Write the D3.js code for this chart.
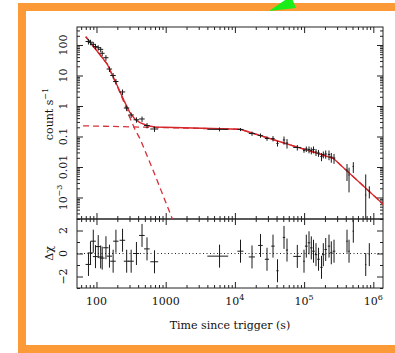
<!DOCTYPE html>
<html>
<head>
<meta charset="utf-8">
<script src="https://cdn.jsdelivr.net/npm/d3@7"></script>
<style>
	body { margin: 0; background: #fff; }
	svg { display: block; }
	.label { font-family: "DejaVu Serif", "Liberation Serif", serif; font-size: 11px; fill: #111; }
	.frame { fill: none; stroke: #222; stroke-width: 1; }
	.err { stroke: #1a1a1a; stroke-width: 1; }
	.model { fill: none; stroke: #d6262b; stroke-width: 1.4; }
	.component { fill: none; stroke: #d6303a; stroke-width: 1.3; stroke-dasharray: 6,4; }
</style>
</head>
<body>
<script>
// Light curve points (time since trigger in s, count rate in count/s)
let time = [76.6, 81.9, 89.9, 96.7, 106, 115, 121, 137, 154, 174, 191, 238, 273, 317, 378, 455, 537, 689,
	6000,
	12050, 17670, 23440, 29100, 35530, 41270, 51230, 56620, 79740, 99680, 107600, 117700, 127100, 136700,
	148600, 161500, 178400, 189500, 205200, 229000, 247200, 270500, 416800, 445500, 514000, 776700, 875400];
let timeErr = [7, 7, 8, 8, 9, 10, 10, 12, 14, 16, 17, 22, 25, 29, 35, 42, 50, 90,
	2000,
	1200, 1800, 1800, 2000, 2000, 1500, 2000, 2000, 10000, 3000, 5000, 5000, 5000, 6000,
	6000, 7000, 7000, 8000, 8000, 9000, 10000, 12000, 10000, 10000, 12000, 15000, 15000];
let rate = [130, 123, 105, 89, 81.5, 72, 53.4, 38.3, 16.3, 10, 6.36, 2.88, 0.86, 0.507, 0.353, 0.375, 0.229, 0.176,
	0.172,
	0.170, 0.125, 0.108, 0.086, 0.086, 0.0589, 0.0768, 0.0612, 0.0436, 0.0348, 0.0389, 0.0375, 0.0348, 0.0375,
	0.0310, 0.0288, 0.0221, 0.0257, 0.0267, 0.0257, 0.0213, 0.0197, 0.00797, 0.00547, 0.01038, 0.00121, 0.00163];
let rateErr = [26, 25, 21, 18, 16, 14, 11, 8, 3.3, 2, 1.3, 0.6, 0.17, 0.1, 0.07, 0.075, 0.045, 0.035,
	0.025,
	0.02, 0.02, 0.017, 0.014, 0.017, 0.012, 0.023, 0.021, 0.009, 0.0056, 0.008, 0.0095, 0.0088, 0.0095,
	0.008, 0.0073, 0.0066, 0.0065, 0.008, 0.009, 0.0075, 0.007, 0.0045, 0.004, 0.004, 0.0045, 0.0007];
let residual = [-0.95, 0.05, 1.07, -0.27, 0.6, -0.3, -0.4, 0.5, -0.23, -0.67, 1.07, 1.15, -0.67, -0.67, 0, 1.57, 0.4, -0.72,
	-0.23,
	0.2, -0.3, 0.7, -0.5, 0.64, -1.5, 1.4, 0.3, -0.25, -0.67, 0.64, 0.93, 0.49, 0.2,
	-0.1, -0.5, -1.2, -0.1, 0.35, 0.64, 0.06, 0.2, 1.07, 0.2, 1.94, -0.96, -0.1];

// Fitted model: total, steep early decay, plateau + broken power law
let modelT = [70, 100, 143, 200, 250, 300, 360, 425, 550, 700, 11900, 264000, 1500000];
let modelF = [187, 67, 23.8, 4.6, 1.5, 0.64, 0.37, 0.285, 0.225, 0.205, 0.172, 0.0193, 0.00051];
let steepT = [70, 100, 143, 200, 250, 300, 360, 425, 700, 1245, 1500];
let steepF = [187, 67, 23.6, 4.4, 1.3, 0.44, 0.17, 0.085, 0.0055, 0.0002, 0.00007];
let lateT = [64, 11900, 264000, 1500000];
let lateF = [0.224, 0.172, 0.0193, 0.00051];

// Axis ticks
let xMajor = [100, 1000, 1e4, 1e5, 1e6];
let xTickLabels = ["100", "1000", "10^4", "10^5", "10^6"];
let yMajor = [1e-3, 0.01, 0.1, 1, 10, 100];
let yTickLabels = ["10^\u22123", "0.01", "0.1", "1", "10", "100"];
let rMajor = [-2, 0, 2];
let rTickLabels = ["\u22122", "0", "2"];
let rMinor = [-3, -1, 1, 3];

let plotL = 77, plotR = 383, plotT = 27, plotM = 219, plotB = 288;

let svg = d3.select("body").append("svg")
	.attr("width", 395)
	.attr("height", 353);

// Page decoration: orange border and the green marker
svg.append("rect")
	.attr("x", 22).attr("y", 7)
	.attr("width", 400).attr("height", 342)
	.attr("fill", "#fff")
	.attr("stroke", "#fd9a38")
	.attr("stroke-width", 8);

svg.append("polygon")
	.attr("points", "269,11 296,8 291,-4")
	.attr("fill", "#19ee19");

let x = d3.scaleLog().domain([52.3, 1.38e6]).range([plotL, plotR]);
let y = d3.scaleLog().domain([1.97e-4, 389]).range([plotM, plotT]);
let yr = d3.scaleLinear().domain([-3, 3]).range([plotB, plotM]);

function logMinor(scale) {
	let [a, b] = scale.domain();
	let out = [];
	for (let e = Math.floor(Math.log10(a)); e <= Math.ceil(Math.log10(b)); e++) {
		for (let k = 2; k <= 9; k++) {
			let v = k * Math.pow(10, e);
			if (v >= a && v <= b) out.push(v);
		}
	}
	return out;
}

function ticks(gen, pos, values, size) {
	svg.append("g")
		.attr("transform", pos)
		.attr("color", "#222")
		.call(gen.tickValues(values).tickSize(size).tickFormat(""))
		.call(g => g.select(".domain").remove());
}

// Label text with optional superscript after "^"
function setLabel(sel, s) {
	let parts = s.split("^");
	sel.append("tspan").text(parts[0]);
	if (parts.length > 1) {
		sel.append("tspan")
			.attr("font-size", "8px")
			.attr("dy", -5)
			.text(parts[1]);
	}
}

// Clip regions for the two panels
let defs = svg.append("defs");
defs.append("clipPath").attr("id", "clipTop").append("rect")
	.attr("x", plotL).attr("y", plotT).attr("width", plotR - plotL).attr("height", plotM - plotT);
defs.append("clipPath").attr("id", "clipBot").append("rect")
	.attr("x", plotL).attr("y", plotM).attr("width", plotR - plotL).attr("height", plotB - plotM);

// Top panel ticks
ticks(d3.axisTop(x), "translate(0," + plotT + ")", xMajor, -6);
ticks(d3.axisTop(x), "translate(0," + plotT + ")", logMinor(x), -3);
ticks(d3.axisBottom(x), "translate(0," + plotM + ")", xMajor, -6);
ticks(d3.axisBottom(x), "translate(0," + plotM + ")", logMinor(x), -3);
ticks(d3.axisLeft(y), "translate(" + plotL + ",0)", yMajor, -6);
ticks(d3.axisLeft(y), "translate(" + plotL + ",0)", logMinor(y), -3);
ticks(d3.axisRight(y), "translate(" + plotR + ",0)", yMajor, -6);
ticks(d3.axisRight(y), "translate(" + plotR + ",0)", logMinor(y), -3);

// Bottom panel ticks
ticks(d3.axisTop(x), "translate(0," + plotM + ")", xMajor, -6);
ticks(d3.axisTop(x), "translate(0," + plotM + ")", logMinor(x), -3);
ticks(d3.axisBottom(x), "translate(0," + plotB + ")", xMajor, -6);
ticks(d3.axisBottom(x), "translate(0," + plotB + ")", logMinor(x), -3);
ticks(d3.axisLeft(yr), "translate(" + plotL + ",0)", rMajor, -6);
ticks(d3.axisLeft(yr), "translate(" + plotL + ",0)", rMinor, -3);
ticks(d3.axisRight(yr), "translate(" + plotR + ",0)", rMajor, -6);
ticks(d3.axisRight(yr), "translate(" + plotR + ",0)", rMinor, -3);

// Frames
svg.append("rect").attr("class", "frame")
	.attr("x", plotL).attr("y", plotT).attr("width", plotR - plotL).attr("height", plotM - plotT);
svg.append("rect").attr("class", "frame")
	.attr("x", plotL).attr("y", plotM).attr("width", plotR - plotL).attr("height", plotB - plotM);

// Model curves
let line = d3.line()
	.x(d => x(d[0]))
	.y(d => y(d[1]));

let topG = svg.append("g").attr("clip-path", "url(#clipTop)");
topG.append("path").attr("class", "component").attr("d", line(d3.zip(steepT, steepF)));
topG.append("path").attr("class", "component").attr("d", line(d3.zip(lateT, lateF)));
topG.append("path").attr("class", "model").attr("d", line(d3.zip(modelT, modelF)));

// Data crosses
let pts = d3.range(time.length);
topG.selectAll(".xerr").data(pts).enter().append("line")
	.attr("class", "err")
	.attr("x1", i => x(time[i] - timeErr[i]))
	.attr("x2", i => x(time[i] + timeErr[i]))
	.attr("y1", i => y(rate[i]))
	.attr("y2", i => y(rate[i]));
topG.selectAll(".yerr").data(pts).enter().append("line")
	.attr("class", "err")
	.attr("x1", i => x(time[i]))
	.attr("x2", i => x(time[i]))
	.attr("y1", i => y(rate[i] + rateErr[i]))
	.attr("y2", i => rate[i] - rateErr[i] > 1e-5 ? y(rate[i] - rateErr[i]) : plotM + 5);

// Residuals
let botG = svg.append("g").attr("clip-path", "url(#clipBot)");
botG.append("line")
	.attr("x1", plotL).attr("x2", plotR)
	.attr("y1", yr(0)).attr("y2", yr(0))
	.attr("stroke", "#222")
	.attr("stroke-dasharray", "1,2.5");
botG.selectAll(".rx").data(pts).enter().append("line")
	.attr("class", "err")
	.attr("x1", i => x(time[i] - timeErr[i]))
	.attr("x2", i => x(time[i] + timeErr[i]))
	.attr("y1", i => yr(residual[i]))
	.attr("y2", i => yr(residual[i]));
botG.selectAll(".ry").data(pts).enter().append("line")
	.attr("class", "err")
	.attr("x1", i => x(time[i]))
	.attr("x2", i => x(time[i]))
	.attr("y1", i => yr(residual[i] + 1))
	.attr("y2", i => yr(residual[i] - 1));

// Tick labels
xMajor.forEach((v, i) => {
	let t = svg.append("text").attr("class", "label")
		.attr("x", x(v))
		.attr("y", 305)
		.attr("text-anchor", "middle");
	setLabel(t, xTickLabels[i]);
});
yMajor.forEach((v, i) => {
	let t = svg.append("text").attr("class", "label")
		.attr("text-anchor", "middle")
		.attr("transform", "translate(67," + y(v) + ") rotate(-90)");
	setLabel(t, yTickLabels[i]);
});
rMajor.forEach((v, i) => {
	svg.append("text").attr("class", "label")
		.attr("text-anchor", "middle")
		.attr("transform", "translate(67," + yr(v) + ") rotate(-90)")
		.text(rTickLabels[i]);
});

// Axis titles
svg.append("text").attr("class", "label")
	.attr("x", (plotL + plotR) / 2)
	.attr("y", 329)
	.attr("text-anchor", "middle")
	.text("Time since trigger (s)");

let yt = svg.append("text").attr("class", "label")
	.attr("text-anchor", "middle")
	.attr("transform", "translate(53,114) rotate(-90)");
yt.append("tspan").text("count s");
yt.append("tspan").attr("font-size", "8px").attr("dy", -5).text("\u22121");

svg.append("text").attr("class", "label")
	.attr("text-anchor", "middle")
	.attr("transform", "translate(53," + yr(0) + ") rotate(-90)")
	.text("\u0394\u03c7");
</script>
</body>
</html>
